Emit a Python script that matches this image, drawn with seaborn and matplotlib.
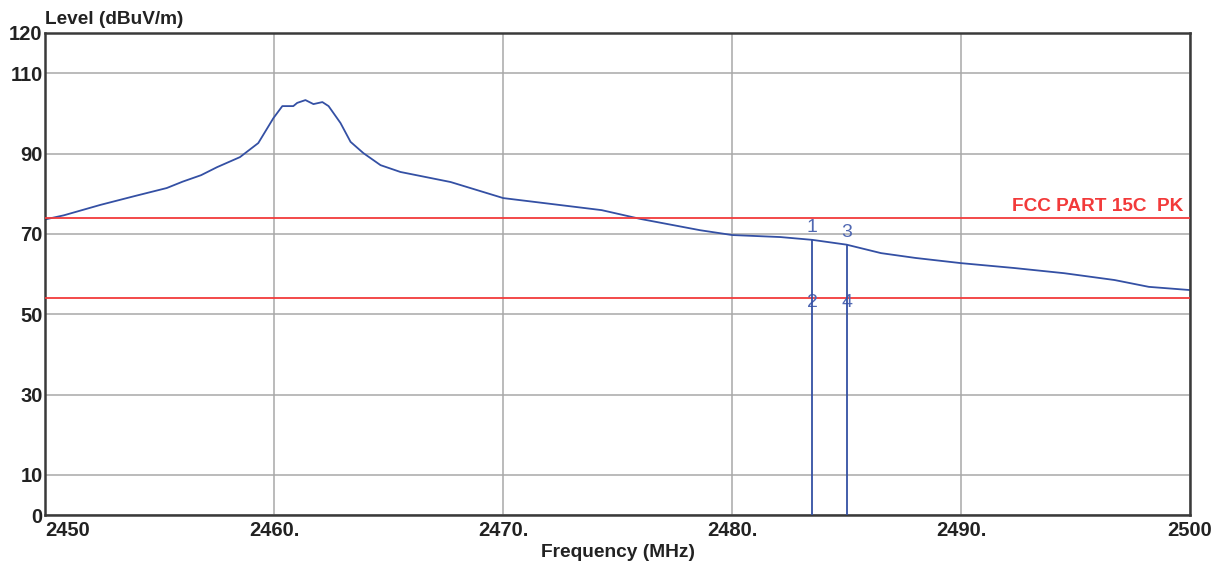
import matplotlib
matplotlib.use("Agg")
import matplotlib.pyplot as plt
import matplotlib.transforms as mtransforms
import seaborn as sns
import pandas as pd

# trace (MHz, dBuV/m)
freq = [2450.0, 2450.8, 2452.4, 2453.9, 2455.3, 2456.0, 2456.8, 2457.5, 2458.5,
        2459.3, 2459.96, 2460.35, 2460.83, 2461.0, 2461.36, 2461.71, 2462.10,
        2462.37, 2462.89, 2463.33, 2463.89, 2464.64, 2465.51, 2467.7, 2470.0,
        2474.3, 2476.0, 2478.6, 2480.0, 2482.1, 2483.5, 2485.0, 2486.5, 2488.0,
        2490.0, 2492.3, 2494.5, 2496.7, 2498.2, 2500.0]
level = [73.6, 74.6, 77.2, 79.4, 81.4, 83.0, 84.6, 86.6, 89.1,
         92.6, 98.8, 101.8, 101.8, 102.6, 103.3, 102.3, 102.8,
         101.8, 97.6, 92.9, 90.1, 87.1, 85.4, 82.9, 78.9,
         75.9, 73.7, 70.9, 69.7, 69.2, 68.5, 67.3, 65.2, 64.0,
         62.7, 61.5, 60.2, 58.5, 56.8, 56.0]

limit_pk = 74
limit_av = 54
limit_text = "FCC PART 15C  PK"

marker_freq = [2483.5, 2485.0]
marker_level = [68.5, 67.3]
marker_top = ["1", "3"]
marker_bottom = ["2", "4"]

yticks = [0, 10, 30, 50, 70, 90, 110, 120]
xticks = [2450, 2460, 2470, 2480, 2490, 2500]
xtick_labels = ["2450", "2460.", "2470.", "2480.", "2490.", "2500"]

trace_color = "#3450a4"
label_color = "#5068b2"
red = "#f23a3a"
font = ["Liberation Sans", "DejaVu Sans"]

sns.set_style("white")
plt.rcParams["font.family"] = font

fig = plt.figure(figsize=(12.13, 5.67), dpi=100)
ax = fig.add_axes([0.0374, 0.0917, 0.9437, 0.8501])

df = pd.DataFrame({"freq": freq, "level": level})
sns.lineplot(data=df, x="freq", y="level", color=trace_color, linewidth=1.3, ax=ax)

ax.axhline(limit_pk, color=red, linewidth=1.3, zorder=3)
ax.axhline(limit_av, color=red, linewidth=1.3, zorder=3)
ax.text(2499.7, limit_pk + 0.8, limit_text, color=red, fontsize=13.7,
        fontweight="bold", ha="right", va="bottom")

ax.vlines(marker_freq, 0, marker_level, color=trace_color, linewidth=1.3, zorder=4)
for f, lv, t in zip(marker_freq, marker_level, marker_top):
    ax.text(f, lv + 1.0, t, color=label_color, fontsize=14, ha="center", va="bottom")
for f, t in zip(marker_freq, marker_bottom):
    ax.text(f, limit_av - 1.2, t, color=label_color, fontsize=14, ha="center", va="center")

ax.set_xlim(2450, 2500)
ax.set_ylim(0, 120)
ax.set_yticks(yticks)
ax.set_yticklabels([str(v) for v in yticks], fontsize=14.5, fontweight="bold")
ax.set_xticks(xticks)
ax.set_xticklabels(xtick_labels, fontsize=14.5, fontweight="bold")
xlabels = ax.get_xticklabels()
xlabels[0].set_ha("left")
shift = mtransforms.ScaledTranslation(-7 / 100, 0, fig.dpi_scale_trans)
xlabels[-1].set_transform(xlabels[-1].get_transform() + shift)
ax.tick_params(axis="both", length=0, colors="#222222")
ax.tick_params(axis="y", pad=2)
ax.tick_params(axis="x", pad=4)

ax.grid(True, color="#a8a8a8", linewidth=1.1)
ax.set_axisbelow(True)
for s in ax.spines.values():
    s.set_color("#3a3a3a")
    s.set_linewidth(1.8)

ax.set_xlabel("Frequency (MHz)", fontsize=13.8, fontweight="bold", color="#222222", labelpad=3)
ax.set_ylabel("")
fig.text(0.0374, 0.966, "Level (dBuV/m)", fontsize=13.7, fontweight="bold",
         color="#222222", ha="left", va="center")

fig.savefig("out.png", dpi=100)
